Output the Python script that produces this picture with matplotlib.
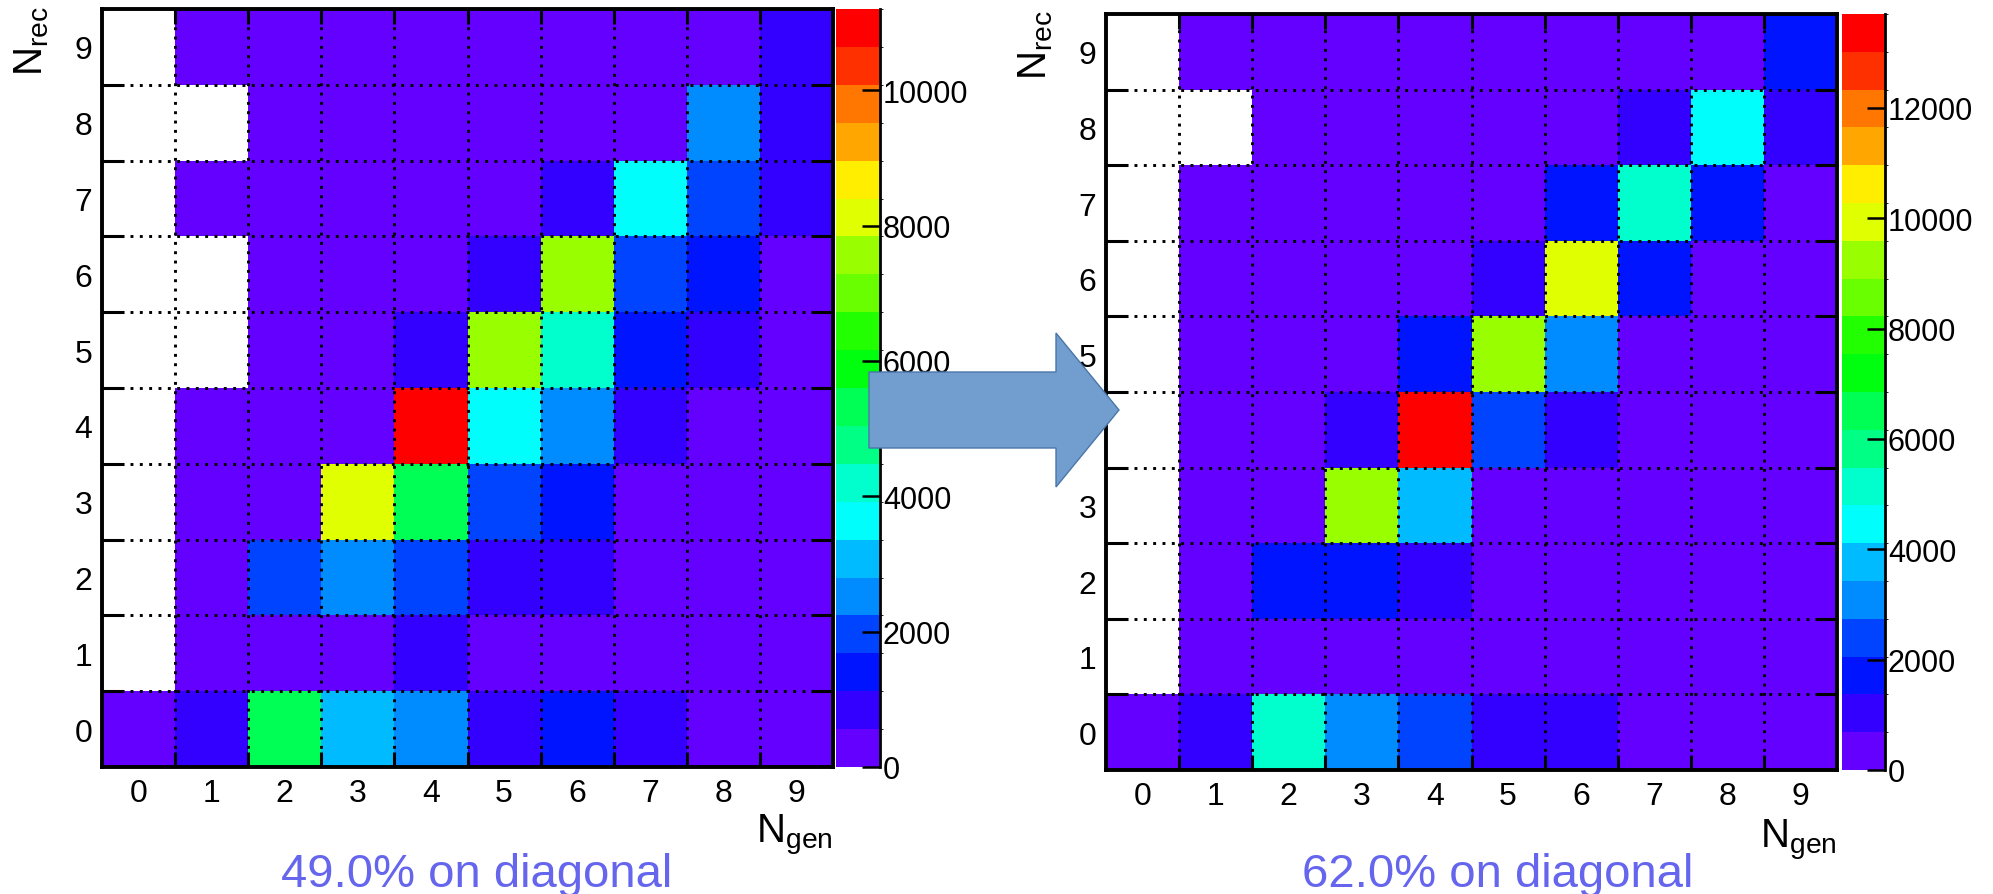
import colorsys
import numpy as np
import matplotlib
matplotlib.use('Agg')
import matplotlib.pyplot as plt
from matplotlib.colors import ListedColormap, BoundaryNorm
from matplotlib.patches import Polygon

plt.rcParams['font.family'] = ['Liberation Sans', 'DejaVu Sans']
plt.rcParams['mathtext.fontset'] = 'custom'
plt.rcParams['mathtext.rm'] = 'Liberation Sans'

# bin labels
gen_labels = ['0', '1', '2', '3', '4', '5', '6', '7', '8', '9']
rec_labels = ['0', '1', '2', '3', '4', '5', '6', '7', '8', '9']

# counts, rows = N_rec 0..9, columns = N_gen 0..9 (0 = empty bin)
before = [
    [300, 800, 5300, 3100, 2500, 900, 1400, 700, 250, 120],
    [0, 350, 300, 400, 850, 250, 200, 150, 100, 60],
    [0, 300, 1950, 2500, 1900, 800, 750, 300, 150, 80],
    [0, 150, 400, 8150, 5300, 1950, 1350, 400, 200, 100],
    [0, 80, 200, 450, 11200, 3650, 2500, 750, 350, 150],
    [0, 0, 100, 250, 900, 7600, 4200, 1350, 800, 300],
    [0, 0, 50, 100, 300, 850, 7600, 1950, 1400, 450],
    [0, 30, 40, 60, 100, 300, 800, 3650, 1950, 700],
    [0, 0, 20, 30, 50, 100, 250, 450, 2500, 900],
    [0, 10, 10, 20, 30, 40, 100, 200, 450, 850],
]
after = [
    [300, 1000, 5150, 3100, 2400, 1000, 950, 300, 150, 80],
    [0, 400, 350, 300, 450, 250, 200, 150, 100, 50],
    [0, 300, 1700, 1750, 1100, 500, 350, 200, 100, 50],
    [0, 150, 400, 9250, 3750, 600, 400, 250, 150, 80],
    [0, 80, 250, 1000, 13700, 2400, 1050, 450, 250, 100],
    [0, 30, 100, 300, 1700, 9250, 3100, 600, 300, 150],
    [0, 20, 50, 100, 300, 1000, 9950, 1700, 600, 250],
    [0, 10, 30, 50, 100, 250, 1700, 5150, 1700, 500],
    [0, 0, 10, 20, 40, 100, 250, 1000, 4450, 1000],
    [0, 5, 10, 10, 20, 40, 80, 200, 550, 1700],
]
before_max = 11200
after_max = 13700
before_ticks = [0, 2000, 4000, 6000, 8000, 10000]
after_ticks = [0, 2000, 4000, 6000, 8000, 10000, 12000]
captions = ['49.0% on diagonal', '62.0% on diagonal']

# ROOT "pretty" palette, 20 contour levels
ncont = 20
pal = []
for i in range(ncont):
    idx = int((i + 0.99) * 50 / ncont)
    hue = 280 - (idx + 1) * 280 / 50
    pal.append(colorsys.hls_to_rgb(hue / 360.0, 0.5, 1.0))
cmap = ListedColormap(pal)

W, H = 1993, 895
fig = plt.figure(figsize=(W / 100, H / 100), dpi=100)


def px(x0, y0, x1, y1):
    return [x0 / W, 1 - y1 / H, (x1 - x0) / W, (y1 - y0) / H]


def draw(ax, cax, data, zmax, cticks):
    z = np.ma.masked_equal(np.array(data, dtype=float), 0)
    edges = np.arange(-0.5, 10, 1)
    norm = BoundaryNorm(np.linspace(0, zmax, ncont + 1), ncont)
    mesh = ax.pcolormesh(edges, edges, z, cmap=cmap, norm=norm)
    ax.set_xlim(-0.5, 9.5)
    ax.set_ylim(-0.5, 9.5)
    ax.set_xticks(range(10))
    ax.set_xticklabels(gen_labels)
    ax.set_yticks(range(10))
    ax.set_yticklabels(rec_labels)
    ax.set_xticks(edges[1:-1], minor=True)
    ax.set_yticks(edges[1:-1], minor=True)
    ax.tick_params(which='major', length=0, labelsize=23)
    ax.tick_params(axis='x', which='major', pad=8)
    ax.tick_params(axis='y', which='major', pad=7)
    ax.tick_params(axis='x', which='minor', length=11, width=2.2, direction='in',
                   top=True, bottom=True)
    ax.tick_params(axis='y', which='minor', length=16, width=2.2, direction='in',
                   left=True, right=True)
    ax.grid(which='minor', color='black', linestyle=(0, (1, 2.2)), linewidth=2.1)
    ax.set_axisbelow(False)
    for s in ax.spines.values():
        s.set_linewidth(2.8)

    cb = fig.colorbar(mesh, cax=cax, ticks=cticks)
    cb.outline.set_visible(False)
    cax.plot([1, 1], [0, 1], transform=cax.transAxes, color='black',
             lw=2, clip_on=False)
    cax.tick_params(direction='in', length=13, width=1.8, labelsize=22, pad=2)
    cax.set_yticklabels([str(t) for t in cticks])


ax1 = fig.add_axes(px(102, 10, 833, 768))
cax1 = fig.add_axes(px(836, 10, 880, 768))
draw(ax1, cax1, before, before_max, before_ticks)

ax2 = fig.add_axes(px(1106, 15, 1837, 771))
cax2 = fig.add_axes(px(1842, 15, 1885, 771))
draw(ax2, cax2, after, after_max, after_ticks)

# axis titles
fig.text(32 / W, 1 - 6 / H, r'N$_{\mathrm{rec}}$', rotation=90, fontsize=29,
         ha='center', va='top')
fig.text(1036 / W, 1 - 10 / H, r'N$_{\mathrm{rec}}$', rotation=90, fontsize=29,
         ha='center', va='top')
fig.text(833 / W, 1 - 835 / H, r'N$_{\mathrm{gen}}$', fontsize=29,
         ha='right', va='center')
fig.text(1837 / W, 1 - 840 / H, r'N$_{\mathrm{gen}}$', fontsize=29,
         ha='right', va='center')

# captions
fig.text(477 / W, 1 - 887 / H, captions[0], fontsize=34, color='#6565EE',
         ha='center', va='baseline')
fig.text(1498 / W, 1 - 887 / H, captions[1], fontsize=34, color='#6565EE',
         ha='center', va='baseline')

# block arrow between the two plots
arrow_px = [(869, 373), (1056, 373), (1056, 334), (1119, 411),
            (1056, 488), (1056, 449), (869, 449)]
arrow = Polygon([(x / W, 1 - y / H) for x, y in arrow_px], closed=True,
                transform=fig.transFigure, facecolor='#729ECF',
                edgecolor='#4A76A8', linewidth=1, zorder=10)
fig.patches.append(arrow)

fig.savefig('out.png', dpi=100)
